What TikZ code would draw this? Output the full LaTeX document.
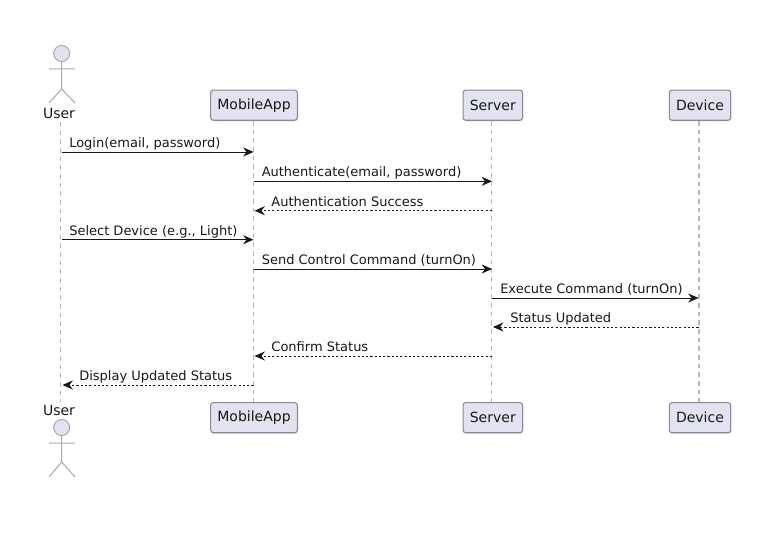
\documentclass[tikz,border=0pt]{standalone}
\usepackage{fontspec}
\setmainfont{DejaVu Sans}
\usetikzlibrary{arrows.meta}
\definecolor{partfill}{HTML}{E2E2F0}
\definecolor{partline}{HTML}{8A8A96}
\definecolor{lifecol}{HTML}{B8B8B8}
\definecolor{actline}{HTML}{A8A8B0}
\definecolor{msgcol}{HTML}{181818}
\tikzset{
  x=0.75pt,y=-0.75pt,
  part/.style={draw=partline,fill=partfill,line width=0.8pt,rounded corners=2pt,minimum height=22.6pt,inner sep=0pt,font=\fontsize{10.5pt}{12pt}\selectfont,text=msgcol,
    preaction={draw=black!7,fill=black!7,transform canvas={shift={(0.5pt,-0.7pt)}}}},
  actlabel/.style={font=\fontsize{10.5pt}{12pt}\selectfont,text=msgcol,inner sep=0pt},
  msglabel/.style={anchor=base west,font=\fontsize{9.75pt}{12pt}\selectfont,text=msgcol,inner sep=0pt},
  life/.style={draw=lifecol,line width=0.95pt,dash pattern=on 3.4pt off 3.1pt},
  msg/.style={draw=msgcol,line width=0.75pt,-{Stealth[length=7.8pt,width=6.8pt,inset=2.6pt,fill=msgcol]}},
  rmsg/.style={msg,dash pattern=on 1.6pt off 1.6pt},
  actor/.style={draw=actline,line width=0.75pt},
  head/.style={draw=actline,fill=partfill,line width=0.75pt},
}
\begin{document}
\begin{tikzpicture}
\useasboundingbox (0,0) rectangle (768,535);
\fill[white] (0,0) rectangle (768,535);
% participants
\node[part,minimum width=65pt] (appTop) at (254,105.2) {MobileApp};
\node[part,minimum width=44.6pt] (srvTop) at (492.8,105.2) {Server};
\node[part,minimum width=46pt] (devTop) at (700,105.2) {Device};
\node[part,minimum width=65pt] (appBot) at (254,417.7) {MobileApp};
\node[part,minimum width=44.6pt] (srvBot) at (492.8,417.7) {Server};
\node[part,minimum width=46pt] (devBot) at (700,417.7) {Device};
\node[actlabel] (userTop) at (59,113) {User};
\node[actlabel] (userBot) at (59,410) {User};
% lifelines
\coordinate (ul1) at (60.8,122);
\coordinate (ul2) at (60.8,402);
\coordinate (ml1) at (253.5,121);
\coordinate (ml2) at (253.5,402);
\coordinate (sl1) at (491.5,121);
\coordinate (sl2) at (491.5,402);
\coordinate (dl1) at (699,121);
\coordinate (dl2) at (699,402);
\draw[life] (ul1) -- (ul2);
\draw[life] (ml1) -- (ml2);
\draw[life] (sl1) -- (sl2);
\draw[life] (dl1) -- (dl2);
% actors
\draw[actor] (61.7,61) -- (61.7,89) (49,69) -- (75,69) (49,103) -- (61.7,89) -- (75,103);
\node[head,circle,minimum size=12pt,inner sep=0pt] (uhead) at (61.7,53.5) {};
\draw[actor] (61.7,435) -- (61.7,462) (49,443) -- (75,443) (49,477) -- (61.7,462) -- (75,477);
\node[head,circle,minimum size=12pt,inner sep=0pt] (uhead2) at (61.7,427.5) {};
% message ends
\foreach \n/\y in {1/152,2/181.3,3/210.7,4/239.7,5/269,6/298,7/327,8/356,9/385}{
  \coordinate (U\n) at (61.5,\y);
  \coordinate (M\n) at (253.5,\y);
  \coordinate (S\n) at (492,\y);
  \coordinate (D\n) at (698.5,\y);
}
\draw[msg] (U1) -- (M1);
\node[msglabel] (t1) at (69,147) {Login(email, password)};
\draw[msg] (M2) -- (S2);
\node[msglabel] (t2) at (261.5,176) {Authenticate(email, password)};
\draw[rmsg] (S3) -- ([xshift=0.75pt]M3);
\node[msglabel] (t3) at (271.2,206) {Authentication Success};
\draw[msg] (U4) -- (M4);
\node[msglabel] (t4) at (69,235) {Select Device (e.g., Light)};
\draw[msg] (M5) -- (S5);
\node[msglabel] (t5) at (261.5,264) {Send Control Command (turnOn)};
\draw[msg] (S6) -- (D6);
\node[msglabel] (t6) at (500,293) {Execute Command (turnOn)};
\draw[rmsg] (D7) -- ([xshift=0.75pt]S7);
\node[msglabel] (t7) at (510,322) {Status Updated};
\draw[rmsg] (S8) -- ([xshift=0.75pt]M8);
\node[msglabel] (t8) at (271.2,351) {Confirm Status};
\draw[rmsg] (M9) -- ([xshift=0.75pt]U9);
\node[msglabel] (t9) at (79,380.4) {Display Updated Status};
\end{tikzpicture}
\end{document}
